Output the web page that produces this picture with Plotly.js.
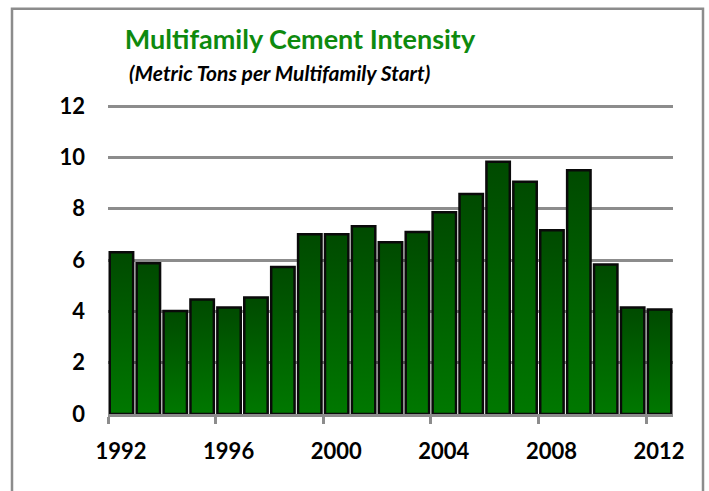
<!DOCTYPE html>
<html>
<head>
<meta charset="utf-8">
<script src="https://cdn.plot.ly/plotly-3.0.1.min.js"></script>
<style>
  html, body { margin: 0; padding: 0; background: #ffffff; }
  #chart { width: 709px; height: 491px; }
</style>
</head>
<body>
<div id="chart"></div>
<script>
// ---- data ----
const years = [1992, 1993, 1994, 1995, 1996, 1997, 1998, 1999, 2000, 2001, 2002,
               2003, 2004, 2005, 2006, 2007, 2008, 2009, 2010, 2011, 2012];
const intensity = [6.3, 5.87, 4.01, 4.46, 4.15, 4.54, 5.73, 7.0, 7.0, 7.32, 6.69,
                   7.09, 7.86, 8.57, 9.83, 9.05, 7.16, 9.5, 5.83, 4.15, 4.07];
const xTickLabels = ['1992', '1996', '2000', '2004', '2008', '2012'];
const yTickValues = [0, 2, 4, 6, 8, 10, 12];
const titleText = 'Multifamily Cement Intensity';
const subtitleText = '(Metric Tons per Multifamily Start)';

// ---- layout helpers ----
const FONT = 'Lato, "Open Sans", "DejaVu Sans", sans-serif';
const GRID = '#8c8c8c';

const trace = {
  type: 'bar',
  x: years,
  y: intensity,
  width: 0.87,
  marker: { color: '#006100', line: { color: '#0a0a0a', width: 2.5 } },
  hoverinfo: 'x+y'
};

const layout = {
  width: 709,
  height: 491,
  margin: { l: 108, r: 36, t: 105, b: 77, pad: 0 },
  paper_bgcolor: '#ffffff',
  plot_bgcolor: '#ffffff',
  showlegend: false,
  bargap: 0.13,
  title: {
    text: titleText,
    font: { family: FONT, size: 27, color: '#0e8a0e', weight: 'bold' },
    x: 300 / 709, xref: 'container', xanchor: 'center',
    y: 1 - 40 / 491, yref: 'container', yanchor: 'middle'
  },
  xaxis: {
    type: 'linear',
    range: [years[0] - 0.5, years[years.length - 1] + 0.5],
    tickmode: 'array',
    tickvals: xTickLabels.map(t => Number(t) - 0.5),
    ticktext: xTickLabels,
    ticklabelshift: 13,
    ticks: 'outside',
    ticklen: 7,
    tickwidth: 3,
    tickcolor: GRID,
    ticklabelstandoff: 9,
    showgrid: false,
    zeroline: false,
    showline: true,
    linecolor: GRID,
    linewidth: 3,
    tickfont: { family: FONT, size: 22, color: '#000000', weight: 'bold' },
    fixedrange: true
  },
  yaxis: {
    range: [0, 12.04],
    tickmode: 'array',
    tickvals: yTickValues,
    ticks: '',
    ticklabelstandoff: 22,
    showgrid: true,
    gridcolor: GRID,
    gridwidth: 3,
    zeroline: false,
    showline: false,
    tickfont: { family: FONT, size: 22, color: '#000000', weight: 'bold' },
    fixedrange: true
  },
  annotations: [{
    text: subtitleText,
    xref: 'paper', yref: 'paper',
    x: (279 - 108) / 565, y: (414 - 74) / 308,
    xanchor: 'center', yanchor: 'middle',
    showarrow: false,
    font: { family: FONT, size: 21, color: '#000000', weight: 'bold', style: 'italic' }
  }],
  shapes: [{
    type: 'rect', xref: 'paper', yref: 'paper',
    x0: (12 - 108) / 565, x1: (703 - 108) / 565,
    y0: (414 - 520) / 308, y1: (414 - 10) / 308,
    line: { color: GRID, width: 2.5 },
    fillcolor: 'rgba(0,0,0,0)',
    layer: 'below'
  }]
};

Plotly.newPlot('chart', [trace], layout, { displayModeBar: false, staticPlot: true }).then(gd => {
  // vertical gradient fill for bars (dark top -> brighter bottom)
  const svg = gd.querySelector('svg.main-svg');
  let defs = svg.querySelector('defs');
  const ns = 'http://www.w3.org/2000/svg';
  if (!defs) { defs = document.createElementNS(ns, 'defs'); svg.prepend(defs); }
  const grad = document.createElementNS(ns, 'linearGradient');
  grad.setAttribute('id', 'barGrad');
  grad.setAttribute('x1', '0'); grad.setAttribute('y1', '0');
  grad.setAttribute('x2', '0'); grad.setAttribute('y2', '1');
  [['0%', '#004a00'], ['100%', '#007800']].forEach(([o, c]) => {
    const s = document.createElementNS(ns, 'stop');
    s.setAttribute('offset', o); s.setAttribute('stop-color', c);
    grad.appendChild(s);
  });
  defs.appendChild(grad);
  gd.querySelectorAll('.barlayer .point path').forEach(p => { p.style.fill = 'url(#barGrad)'; });
});
</script>
</body>
</html>
